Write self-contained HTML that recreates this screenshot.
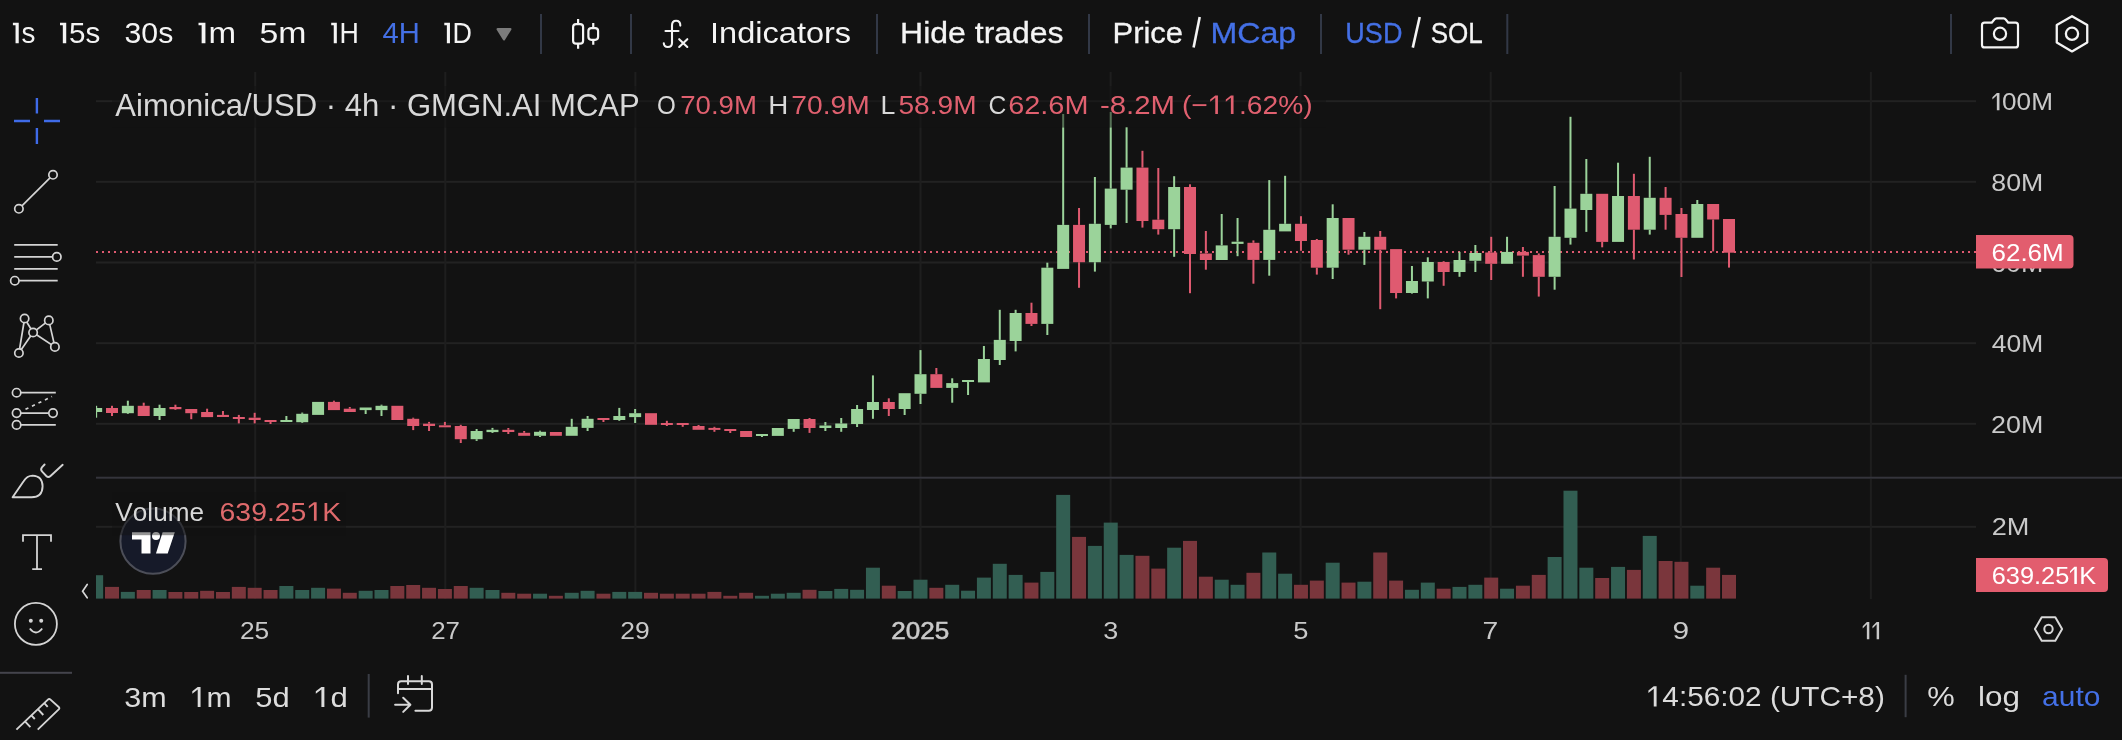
<!DOCTYPE html>
<html><head><meta charset="utf-8"><style>
html,body{margin:0;padding:0;background:#121212;overflow:hidden}
svg{display:block;will-change:transform}
text{font-family:"Liberation Sans",sans-serif;white-space:pre;font-kerning:none}
</style></head><body>
<svg width="2122" height="740" viewBox="0 0 2122 740">
<defs><clipPath id="cm"><rect x="96" y="72" width="1880" height="405"/></clipPath><clipPath id="cv"><rect x="96" y="479" width="1880" height="120"/></clipPath></defs>
<rect x="0" y="0" width="2122" height="740" fill="#121212"/><rect x="96" y="100.2" width="1880" height="2" fill="#222222"/><rect x="96" y="180.8" width="1880" height="2" fill="#222222"/><rect x="96" y="261.5" width="1880" height="2" fill="#222222"/><rect x="96" y="342.2" width="1880" height="2" fill="#222222"/><rect x="96" y="422.8" width="1880" height="2" fill="#222222"/><rect x="96" y="525.8" width="1880" height="2" fill="#222222"/><rect x="254.2" y="72" width="2" height="405" fill="#1e1e1e"/><rect x="254.2" y="479" width="2" height="120" fill="#1e1e1e"/><rect x="444.3" y="72" width="2" height="405" fill="#1e1e1e"/><rect x="444.3" y="479" width="2" height="120" fill="#1e1e1e"/><rect x="634.4" y="72" width="2" height="405" fill="#1e1e1e"/><rect x="634.4" y="479" width="2" height="120" fill="#1e1e1e"/><rect x="919.5" y="72" width="2" height="405" fill="#1e1e1e"/><rect x="919.5" y="479" width="2" height="120" fill="#1e1e1e"/><rect x="1109.6" y="72" width="2" height="405" fill="#1e1e1e"/><rect x="1109.6" y="479" width="2" height="120" fill="#1e1e1e"/><rect x="1299.6" y="72" width="2" height="405" fill="#1e1e1e"/><rect x="1299.6" y="479" width="2" height="120" fill="#1e1e1e"/><rect x="1489.7" y="72" width="2" height="405" fill="#1e1e1e"/><rect x="1489.7" y="479" width="2" height="120" fill="#1e1e1e"/><rect x="1679.8" y="72" width="2" height="405" fill="#1e1e1e"/><rect x="1679.8" y="479" width="2" height="120" fill="#1e1e1e"/><rect x="1869.9" y="72" width="2" height="405" fill="#1e1e1e"/><rect x="1869.9" y="479" width="2" height="120" fill="#1e1e1e"/><rect x="96" y="476.7" width="2026" height="2" fill="#34343b"/><line x1="96" y1="252" x2="1976" y2="252" stroke="#df5a70" stroke-width="2" stroke-dasharray="2 4"/><g clip-path="url(#cv)"><rect x="89.15" y="575.20" width="14" height="23.40" fill="#325e52"/><rect x="105.00" y="586.90" width="14" height="11.70" fill="#7a363c"/><rect x="120.85" y="591.90" width="14" height="6.70" fill="#325e52"/><rect x="136.71" y="590.00" width="14" height="8.60" fill="#7a363c"/><rect x="152.56" y="590.00" width="14" height="8.60" fill="#325e52"/><rect x="168.41" y="592.00" width="14" height="6.60" fill="#7a363c"/><rect x="184.26" y="592.00" width="14" height="6.60" fill="#7a363c"/><rect x="200.12" y="590.80" width="14" height="7.80" fill="#7a363c"/><rect x="215.97" y="592.00" width="14" height="6.60" fill="#7a363c"/><rect x="231.82" y="586.90" width="14" height="11.70" fill="#7a363c"/><rect x="247.68" y="587.80" width="14" height="10.80" fill="#7a363c"/><rect x="263.53" y="590.00" width="14" height="8.60" fill="#7a363c"/><rect x="279.38" y="586.00" width="14" height="12.60" fill="#325e52"/><rect x="295.24" y="590.00" width="14" height="8.60" fill="#325e52"/><rect x="311.09" y="587.80" width="14" height="10.80" fill="#325e52"/><rect x="326.94" y="588.60" width="14" height="10.00" fill="#7a363c"/><rect x="342.79" y="592.80" width="14" height="5.80" fill="#7a363c"/><rect x="358.65" y="590.80" width="14" height="7.80" fill="#325e52"/><rect x="374.50" y="590.00" width="14" height="8.60" fill="#325e52"/><rect x="390.35" y="586.00" width="14" height="12.60" fill="#7a363c"/><rect x="406.21" y="585.00" width="14" height="13.60" fill="#7a363c"/><rect x="422.06" y="587.80" width="14" height="10.80" fill="#7a363c"/><rect x="437.91" y="589.00" width="14" height="9.60" fill="#7a363c"/><rect x="453.77" y="586.00" width="14" height="12.60" fill="#7a363c"/><rect x="469.62" y="587.80" width="14" height="10.80" fill="#325e52"/><rect x="485.47" y="590.00" width="14" height="8.60" fill="#325e52"/><rect x="501.32" y="592.80" width="14" height="5.80" fill="#7a363c"/><rect x="517.18" y="593.70" width="14" height="4.90" fill="#7a363c"/><rect x="533.03" y="593.70" width="14" height="4.90" fill="#325e52"/><rect x="548.88" y="595.80" width="14" height="2.80" fill="#7a363c"/><rect x="564.74" y="592.80" width="14" height="5.80" fill="#325e52"/><rect x="580.59" y="590.80" width="14" height="7.80" fill="#325e52"/><rect x="596.44" y="593.70" width="14" height="4.90" fill="#7a363c"/><rect x="612.30" y="591.90" width="14" height="6.70" fill="#325e52"/><rect x="628.15" y="591.90" width="14" height="6.70" fill="#325e52"/><rect x="644.00" y="592.80" width="14" height="5.80" fill="#7a363c"/><rect x="659.86" y="593.70" width="14" height="4.90" fill="#7a363c"/><rect x="675.71" y="593.70" width="14" height="4.90" fill="#7a363c"/><rect x="691.56" y="593.70" width="14" height="4.90" fill="#7a363c"/><rect x="707.41" y="591.90" width="14" height="6.70" fill="#7a363c"/><rect x="723.27" y="595.80" width="14" height="2.80" fill="#7a363c"/><rect x="739.12" y="592.80" width="14" height="5.80" fill="#7a363c"/><rect x="754.97" y="595.80" width="14" height="2.80" fill="#325e52"/><rect x="770.83" y="593.70" width="14" height="4.90" fill="#325e52"/><rect x="786.68" y="592.80" width="14" height="5.80" fill="#325e52"/><rect x="802.53" y="589.80" width="14" height="8.80" fill="#7a363c"/><rect x="818.38" y="591.00" width="14" height="7.60" fill="#325e52"/><rect x="834.24" y="588.90" width="14" height="9.70" fill="#325e52"/><rect x="850.09" y="589.80" width="14" height="8.80" fill="#325e52"/><rect x="865.94" y="567.70" width="14" height="30.90" fill="#325e52"/><rect x="881.80" y="585.70" width="14" height="12.90" fill="#7a363c"/><rect x="897.65" y="591.00" width="14" height="7.60" fill="#325e52"/><rect x="913.50" y="579.70" width="14" height="18.90" fill="#325e52"/><rect x="929.36" y="587.80" width="14" height="10.80" fill="#7a363c"/><rect x="945.21" y="584.80" width="14" height="13.80" fill="#325e52"/><rect x="961.06" y="590.70" width="14" height="7.90" fill="#325e52"/><rect x="976.91" y="577.60" width="14" height="21.00" fill="#325e52"/><rect x="992.77" y="563.80" width="14" height="34.80" fill="#325e52"/><rect x="1008.62" y="574.90" width="14" height="23.70" fill="#325e52"/><rect x="1024.47" y="582.60" width="14" height="16.00" fill="#7a363c"/><rect x="1040.33" y="571.90" width="14" height="26.70" fill="#325e52"/><rect x="1056.18" y="494.90" width="14" height="103.70" fill="#325e52"/><rect x="1072.03" y="536.90" width="14" height="61.70" fill="#7a363c"/><rect x="1087.89" y="545.90" width="14" height="52.70" fill="#325e52"/><rect x="1103.74" y="522.60" width="14" height="76.00" fill="#325e52"/><rect x="1119.59" y="554.90" width="14" height="43.70" fill="#325e52"/><rect x="1135.44" y="555.80" width="14" height="42.80" fill="#7a363c"/><rect x="1151.30" y="568.60" width="14" height="30.00" fill="#7a363c"/><rect x="1167.15" y="547.70" width="14" height="50.90" fill="#325e52"/><rect x="1183.00" y="540.90" width="14" height="57.70" fill="#7a363c"/><rect x="1198.86" y="576.70" width="14" height="21.90" fill="#7a363c"/><rect x="1214.71" y="579.70" width="14" height="18.90" fill="#325e52"/><rect x="1230.56" y="584.80" width="14" height="13.80" fill="#325e52"/><rect x="1246.42" y="572.80" width="14" height="25.80" fill="#7a363c"/><rect x="1262.27" y="552.50" width="14" height="46.10" fill="#325e52"/><rect x="1278.12" y="573.70" width="14" height="24.90" fill="#325e52"/><rect x="1293.97" y="584.80" width="14" height="13.80" fill="#7a363c"/><rect x="1309.83" y="580.60" width="14" height="18.00" fill="#7a363c"/><rect x="1325.68" y="562.70" width="14" height="35.90" fill="#325e52"/><rect x="1341.53" y="582.60" width="14" height="16.00" fill="#7a363c"/><rect x="1357.39" y="581.70" width="14" height="16.90" fill="#325e52"/><rect x="1373.24" y="552.50" width="14" height="46.10" fill="#7a363c"/><rect x="1389.09" y="580.60" width="14" height="18.00" fill="#7a363c"/><rect x="1404.95" y="589.80" width="14" height="8.80" fill="#325e52"/><rect x="1420.80" y="582.60" width="14" height="16.00" fill="#325e52"/><rect x="1436.65" y="588.70" width="14" height="9.90" fill="#7a363c"/><rect x="1452.50" y="586.90" width="14" height="11.70" fill="#325e52"/><rect x="1468.36" y="584.80" width="14" height="13.80" fill="#325e52"/><rect x="1484.21" y="577.60" width="14" height="21.00" fill="#7a363c"/><rect x="1500.06" y="588.70" width="14" height="9.90" fill="#325e52"/><rect x="1515.92" y="585.70" width="14" height="12.90" fill="#7a363c"/><rect x="1531.77" y="574.90" width="14" height="23.70" fill="#7a363c"/><rect x="1547.62" y="557.00" width="14" height="41.60" fill="#325e52"/><rect x="1563.48" y="490.70" width="14" height="107.90" fill="#325e52"/><rect x="1579.33" y="567.70" width="14" height="30.90" fill="#325e52"/><rect x="1595.18" y="578.00" width="14" height="20.60" fill="#7a363c"/><rect x="1611.04" y="566.90" width="14" height="31.70" fill="#325e52"/><rect x="1626.89" y="569.90" width="14" height="28.70" fill="#7a363c"/><rect x="1642.74" y="535.90" width="14" height="62.70" fill="#325e52"/><rect x="1658.59" y="561.00" width="14" height="37.60" fill="#7a363c"/><rect x="1674.45" y="561.80" width="14" height="36.80" fill="#7a363c"/><rect x="1690.30" y="585.70" width="14" height="12.90" fill="#325e52"/><rect x="1706.15" y="567.70" width="14" height="30.90" fill="#7a363c"/><rect x="1722.01" y="574.90" width="14" height="23.70" fill="#7a363c"/></g><g clip-path="url(#cm)"><rect x="95.15" y="405.80" width="2" height="2.20" fill="#9bd39a"/><rect x="95.15" y="412.00" width="2" height="5.70" fill="#9bd39a"/><rect x="90.15" y="408.00" width="12" height="4.00" fill="#9bd39a"/><rect x="111.00" y="405.80" width="2" height="2.20" fill="#df5a70"/><rect x="111.00" y="413.00" width="2" height="3.00" fill="#df5a70"/><rect x="106.00" y="408.00" width="12" height="5.00" fill="#df5a70"/><rect x="126.85" y="400.70" width="2" height="5.10" fill="#9bd39a"/><rect x="126.85" y="413.20" width="2" height="0.80" fill="#9bd39a"/><rect x="121.85" y="405.80" width="12" height="7.40" fill="#9bd39a"/><rect x="142.71" y="402.70" width="2" height="3.10" fill="#df5a70"/><rect x="137.71" y="405.80" width="12" height="10.20" fill="#df5a70"/><rect x="158.56" y="404.70" width="2" height="3.30" fill="#9bd39a"/><rect x="158.56" y="416.00" width="2" height="4.00" fill="#9bd39a"/><rect x="153.56" y="408.00" width="12" height="8.00" fill="#9bd39a"/><rect x="174.41" y="404.70" width="2" height="2.30" fill="#df5a70"/><rect x="174.41" y="409.20" width="2" height="0.80" fill="#df5a70"/><rect x="169.41" y="407.00" width="12" height="2.20" fill="#df5a70"/><rect x="190.26" y="413.20" width="2" height="6.00" fill="#df5a70"/><rect x="185.26" y="409.00" width="12" height="4.20" fill="#df5a70"/><rect x="206.12" y="408.70" width="2" height="3.30" fill="#df5a70"/><rect x="201.12" y="412.00" width="12" height="5.10" fill="#df5a70"/><rect x="221.97" y="411.00" width="2" height="3.90" fill="#df5a70"/><rect x="216.97" y="414.90" width="12" height="2.10" fill="#df5a70"/><rect x="237.82" y="414.90" width="2" height="2.10" fill="#df5a70"/><rect x="237.82" y="418.80" width="2" height="4.60" fill="#df5a70"/><rect x="232.82" y="417.00" width="12" height="2.00" fill="#df5a70"/><rect x="253.68" y="412.80" width="2" height="4.90" fill="#df5a70"/><rect x="253.68" y="420.00" width="2" height="3.40" fill="#df5a70"/><rect x="248.68" y="417.70" width="12" height="2.30" fill="#df5a70"/><rect x="269.53" y="422.00" width="2" height="2.00" fill="#df5a70"/><rect x="264.53" y="420.00" width="12" height="2.00" fill="#df5a70"/><rect x="285.38" y="416.00" width="2" height="4.00" fill="#9bd39a"/><rect x="280.38" y="420.00" width="12" height="2.00" fill="#9bd39a"/><rect x="301.24" y="412.60" width="2" height="1.20" fill="#9bd39a"/><rect x="301.24" y="422.20" width="2" height="0.80" fill="#9bd39a"/><rect x="296.24" y="413.80" width="12" height="8.40" fill="#9bd39a"/><rect x="312.09" y="401.90" width="12" height="13.00" fill="#9bd39a"/><rect x="332.94" y="400.70" width="2" height="1.20" fill="#df5a70"/><rect x="327.94" y="401.90" width="12" height="8.20" fill="#df5a70"/><rect x="348.79" y="407.00" width="2" height="1.70" fill="#df5a70"/><rect x="343.79" y="408.70" width="12" height="3.30" fill="#df5a70"/><rect x="364.65" y="410.10" width="2" height="3.90" fill="#9bd39a"/><rect x="359.65" y="407.50" width="12" height="2.60" fill="#9bd39a"/><rect x="380.50" y="404.70" width="2" height="1.10" fill="#9bd39a"/><rect x="380.50" y="410.10" width="2" height="5.90" fill="#9bd39a"/><rect x="375.50" y="405.80" width="12" height="4.30" fill="#9bd39a"/><rect x="391.35" y="405.80" width="12" height="14.20" fill="#df5a70"/><rect x="412.21" y="417.70" width="2" height="1.10" fill="#df5a70"/><rect x="412.21" y="426.00" width="2" height="4.10" fill="#df5a70"/><rect x="407.21" y="418.80" width="12" height="7.20" fill="#df5a70"/><rect x="428.06" y="421.90" width="2" height="1.80" fill="#df5a70"/><rect x="428.06" y="426.00" width="2" height="5.00" fill="#df5a70"/><rect x="423.06" y="423.70" width="12" height="2.30" fill="#df5a70"/><rect x="443.91" y="421.90" width="2" height="3.40" fill="#df5a70"/><rect x="438.91" y="425.30" width="12" height="2.00" fill="#df5a70"/><rect x="459.77" y="424.80" width="2" height="1.20" fill="#df5a70"/><rect x="459.77" y="439.20" width="2" height="3.80" fill="#df5a70"/><rect x="454.77" y="426.00" width="12" height="13.20" fill="#df5a70"/><rect x="475.62" y="429.00" width="2" height="2.00" fill="#9bd39a"/><rect x="475.62" y="439.20" width="2" height="1.70" fill="#9bd39a"/><rect x="470.62" y="431.00" width="12" height="8.20" fill="#9bd39a"/><rect x="491.47" y="427.90" width="2" height="1.90" fill="#9bd39a"/><rect x="491.47" y="432.10" width="2" height="0.90" fill="#9bd39a"/><rect x="486.47" y="429.80" width="12" height="2.30" fill="#9bd39a"/><rect x="507.32" y="428.00" width="2" height="1.80" fill="#df5a70"/><rect x="507.32" y="432.00" width="2" height="2.00" fill="#df5a70"/><rect x="502.32" y="429.80" width="12" height="2.20" fill="#df5a70"/><rect x="523.18" y="431.00" width="2" height="1.80" fill="#df5a70"/><rect x="518.18" y="432.80" width="12" height="3.00" fill="#df5a70"/><rect x="539.03" y="430.70" width="2" height="1.10" fill="#9bd39a"/><rect x="539.03" y="435.80" width="2" height="1.20" fill="#9bd39a"/><rect x="534.03" y="431.80" width="12" height="4.00" fill="#9bd39a"/><rect x="549.88" y="432.00" width="12" height="3.80" fill="#df5a70"/><rect x="570.74" y="418.80" width="2" height="8.00" fill="#9bd39a"/><rect x="565.74" y="426.80" width="12" height="9.00" fill="#9bd39a"/><rect x="586.59" y="416.00" width="2" height="2.80" fill="#9bd39a"/><rect x="586.59" y="427.90" width="2" height="3.10" fill="#9bd39a"/><rect x="581.59" y="418.80" width="12" height="9.10" fill="#9bd39a"/><rect x="602.44" y="420.00" width="2" height="2.00" fill="#df5a70"/><rect x="597.44" y="418.00" width="12" height="2.00" fill="#df5a70"/><rect x="618.30" y="407.90" width="2" height="8.10" fill="#9bd39a"/><rect x="618.30" y="420.00" width="2" height="0.80" fill="#9bd39a"/><rect x="613.30" y="416.00" width="12" height="4.00" fill="#9bd39a"/><rect x="634.15" y="409.00" width="2" height="4.20" fill="#9bd39a"/><rect x="634.15" y="417.10" width="2" height="5.90" fill="#9bd39a"/><rect x="629.15" y="413.20" width="12" height="3.90" fill="#9bd39a"/><rect x="645.00" y="413.20" width="12" height="11.60" fill="#df5a70"/><rect x="665.86" y="420.80" width="2" height="2.20" fill="#df5a70"/><rect x="665.86" y="424.80" width="2" height="1.20" fill="#df5a70"/><rect x="660.86" y="423.00" width="12" height="2.00" fill="#df5a70"/><rect x="681.71" y="424.80" width="2" height="2.00" fill="#df5a70"/><rect x="676.71" y="423.00" width="12" height="2.00" fill="#df5a70"/><rect x="697.56" y="425.00" width="2" height="1.00" fill="#df5a70"/><rect x="692.56" y="426.00" width="12" height="3.80" fill="#df5a70"/><rect x="713.41" y="426.80" width="2" height="1.10" fill="#df5a70"/><rect x="713.41" y="429.80" width="2" height="2.00" fill="#df5a70"/><rect x="708.41" y="427.90" width="12" height="2.00" fill="#df5a70"/><rect x="729.27" y="431.00" width="2" height="2.00" fill="#df5a70"/><rect x="724.27" y="429.00" width="12" height="2.00" fill="#df5a70"/><rect x="740.12" y="431.00" width="12" height="6.00" fill="#df5a70"/><rect x="760.97" y="435.90" width="2" height="1.10" fill="#9bd39a"/><rect x="755.97" y="434.00" width="12" height="2.00" fill="#9bd39a"/><rect x="771.83" y="428.00" width="12" height="7.90" fill="#9bd39a"/><rect x="792.68" y="428.90" width="2" height="2.90" fill="#9bd39a"/><rect x="787.68" y="419.00" width="12" height="9.90" fill="#9bd39a"/><rect x="808.53" y="418.00" width="2" height="1.00" fill="#df5a70"/><rect x="808.53" y="428.00" width="2" height="4.90" fill="#df5a70"/><rect x="803.53" y="419.00" width="12" height="9.00" fill="#df5a70"/><rect x="824.38" y="422.00" width="2" height="3.50" fill="#9bd39a"/><rect x="824.38" y="428.00" width="2" height="3.00" fill="#9bd39a"/><rect x="819.38" y="425.50" width="12" height="2.50" fill="#9bd39a"/><rect x="840.24" y="418.00" width="2" height="5.50" fill="#9bd39a"/><rect x="840.24" y="428.00" width="2" height="3.80" fill="#9bd39a"/><rect x="835.24" y="423.50" width="12" height="4.50" fill="#9bd39a"/><rect x="856.09" y="405.00" width="2" height="4.00" fill="#9bd39a"/><rect x="856.09" y="424.00" width="2" height="3.00" fill="#9bd39a"/><rect x="851.09" y="409.00" width="12" height="15.00" fill="#9bd39a"/><rect x="871.94" y="375.40" width="2" height="26.60" fill="#9bd39a"/><rect x="871.94" y="410.00" width="2" height="8.80" fill="#9bd39a"/><rect x="866.94" y="402.00" width="12" height="8.00" fill="#9bd39a"/><rect x="887.80" y="398.30" width="2" height="3.70" fill="#df5a70"/><rect x="887.80" y="409.00" width="2" height="7.00" fill="#df5a70"/><rect x="882.80" y="402.00" width="12" height="7.00" fill="#df5a70"/><rect x="903.65" y="409.00" width="2" height="6.00" fill="#9bd39a"/><rect x="898.65" y="393.20" width="12" height="15.80" fill="#9bd39a"/><rect x="919.50" y="350.10" width="2" height="24.10" fill="#9bd39a"/><rect x="919.50" y="393.80" width="2" height="10.20" fill="#9bd39a"/><rect x="914.50" y="374.20" width="12" height="19.60" fill="#9bd39a"/><rect x="935.36" y="368.00" width="2" height="6.20" fill="#df5a70"/><rect x="930.36" y="374.20" width="12" height="13.70" fill="#df5a70"/><rect x="951.21" y="378.30" width="2" height="4.80" fill="#9bd39a"/><rect x="951.21" y="387.90" width="2" height="14.80" fill="#9bd39a"/><rect x="946.21" y="383.10" width="12" height="4.80" fill="#9bd39a"/><rect x="967.06" y="382.00" width="2" height="13.00" fill="#9bd39a"/><rect x="962.06" y="380.00" width="12" height="2.00" fill="#9bd39a"/><rect x="982.91" y="346.00" width="2" height="13.00" fill="#9bd39a"/><rect x="977.91" y="359.00" width="12" height="23.40" fill="#9bd39a"/><rect x="998.77" y="309.80" width="2" height="30.10" fill="#9bd39a"/><rect x="998.77" y="360.00" width="2" height="5.00" fill="#9bd39a"/><rect x="993.77" y="339.90" width="12" height="20.10" fill="#9bd39a"/><rect x="1014.62" y="309.80" width="2" height="3.20" fill="#9bd39a"/><rect x="1014.62" y="341.00" width="2" height="10.40" fill="#9bd39a"/><rect x="1009.62" y="313.00" width="12" height="28.00" fill="#9bd39a"/><rect x="1030.47" y="302.70" width="2" height="10.30" fill="#df5a70"/><rect x="1030.47" y="323.90" width="2" height="2.10" fill="#df5a70"/><rect x="1025.47" y="313.00" width="12" height="10.90" fill="#df5a70"/><rect x="1046.33" y="262.70" width="2" height="5.00" fill="#9bd39a"/><rect x="1046.33" y="323.90" width="2" height="11.10" fill="#9bd39a"/><rect x="1041.33" y="267.70" width="12" height="56.20" fill="#9bd39a"/><rect x="1062.18" y="114.00" width="2" height="110.90" fill="#9bd39a"/><rect x="1057.18" y="224.90" width="12" height="44.00" fill="#9bd39a"/><rect x="1078.03" y="208.00" width="2" height="16.90" fill="#df5a70"/><rect x="1078.03" y="262.20" width="2" height="25.60" fill="#df5a70"/><rect x="1073.03" y="224.90" width="12" height="37.30" fill="#df5a70"/><rect x="1093.89" y="177.00" width="2" height="46.80" fill="#9bd39a"/><rect x="1093.89" y="262.20" width="2" height="9.40" fill="#9bd39a"/><rect x="1088.89" y="223.80" width="12" height="38.40" fill="#9bd39a"/><rect x="1109.74" y="112.00" width="2" height="76.60" fill="#9bd39a"/><rect x="1109.74" y="224.90" width="2" height="3.50" fill="#9bd39a"/><rect x="1104.74" y="188.60" width="12" height="36.30" fill="#9bd39a"/><rect x="1125.59" y="127.00" width="2" height="40.60" fill="#9bd39a"/><rect x="1125.59" y="189.70" width="2" height="33.30" fill="#9bd39a"/><rect x="1120.59" y="167.60" width="12" height="22.10" fill="#9bd39a"/><rect x="1141.44" y="150.80" width="2" height="16.80" fill="#df5a70"/><rect x="1141.44" y="221.00" width="2" height="6.60" fill="#df5a70"/><rect x="1136.44" y="167.60" width="12" height="53.40" fill="#df5a70"/><rect x="1157.30" y="168.00" width="2" height="51.70" fill="#df5a70"/><rect x="1157.30" y="229.20" width="2" height="5.40" fill="#df5a70"/><rect x="1152.30" y="219.70" width="12" height="9.50" fill="#df5a70"/><rect x="1173.15" y="176.20" width="2" height="10.80" fill="#9bd39a"/><rect x="1173.15" y="229.20" width="2" height="27.60" fill="#9bd39a"/><rect x="1168.15" y="187.00" width="12" height="42.20" fill="#9bd39a"/><rect x="1189.00" y="184.30" width="2" height="2.70" fill="#df5a70"/><rect x="1189.00" y="254.00" width="2" height="39.20" fill="#df5a70"/><rect x="1184.00" y="187.00" width="12" height="67.00" fill="#df5a70"/><rect x="1204.86" y="231.00" width="2" height="22.50" fill="#df5a70"/><rect x="1204.86" y="260.00" width="2" height="9.70" fill="#df5a70"/><rect x="1199.86" y="253.50" width="12" height="6.50" fill="#df5a70"/><rect x="1220.71" y="214.00" width="2" height="31.40" fill="#9bd39a"/><rect x="1215.71" y="245.40" width="12" height="14.60" fill="#9bd39a"/><rect x="1236.56" y="218.00" width="2" height="23.70" fill="#9bd39a"/><rect x="1236.56" y="243.90" width="2" height="12.30" fill="#9bd39a"/><rect x="1231.56" y="241.70" width="12" height="2.20" fill="#9bd39a"/><rect x="1252.42" y="240.40" width="2" height="2.40" fill="#df5a70"/><rect x="1252.42" y="259.90" width="2" height="23.80" fill="#df5a70"/><rect x="1247.42" y="242.80" width="12" height="17.10" fill="#df5a70"/><rect x="1268.27" y="180.10" width="2" height="49.70" fill="#9bd39a"/><rect x="1268.27" y="259.90" width="2" height="15.80" fill="#9bd39a"/><rect x="1263.27" y="229.80" width="12" height="30.10" fill="#9bd39a"/><rect x="1284.12" y="175.80" width="2" height="48.00" fill="#9bd39a"/><rect x="1279.12" y="223.80" width="12" height="7.60" fill="#9bd39a"/><rect x="1299.97" y="216.20" width="2" height="7.60" fill="#df5a70"/><rect x="1299.97" y="241.00" width="2" height="9.80" fill="#df5a70"/><rect x="1294.97" y="223.80" width="12" height="17.20" fill="#df5a70"/><rect x="1315.83" y="239.00" width="2" height="1.00" fill="#df5a70"/><rect x="1315.83" y="267.70" width="2" height="6.90" fill="#df5a70"/><rect x="1310.83" y="240.00" width="12" height="27.70" fill="#df5a70"/><rect x="1331.68" y="204.30" width="2" height="13.70" fill="#9bd39a"/><rect x="1331.68" y="267.70" width="2" height="11.30" fill="#9bd39a"/><rect x="1326.68" y="218.00" width="12" height="49.70" fill="#9bd39a"/><rect x="1347.53" y="249.70" width="2" height="5.00" fill="#df5a70"/><rect x="1342.53" y="218.00" width="12" height="31.70" fill="#df5a70"/><rect x="1363.39" y="232.00" width="2" height="4.80" fill="#9bd39a"/><rect x="1363.39" y="249.70" width="2" height="15.20" fill="#9bd39a"/><rect x="1358.39" y="236.80" width="12" height="12.90" fill="#9bd39a"/><rect x="1379.24" y="231.00" width="2" height="5.80" fill="#df5a70"/><rect x="1379.24" y="249.70" width="2" height="59.50" fill="#df5a70"/><rect x="1374.24" y="236.80" width="12" height="12.90" fill="#df5a70"/><rect x="1395.09" y="293.00" width="2" height="5.40" fill="#df5a70"/><rect x="1390.09" y="249.10" width="12" height="43.90" fill="#df5a70"/><rect x="1410.95" y="266.00" width="2" height="15.00" fill="#9bd39a"/><rect x="1410.95" y="293.00" width="2" height="0.60" fill="#9bd39a"/><rect x="1405.95" y="281.00" width="12" height="12.00" fill="#9bd39a"/><rect x="1426.80" y="257.30" width="2" height="4.70" fill="#9bd39a"/><rect x="1426.80" y="281.50" width="2" height="16.90" fill="#9bd39a"/><rect x="1421.80" y="262.00" width="12" height="19.50" fill="#9bd39a"/><rect x="1442.65" y="261.20" width="2" height="0.80" fill="#df5a70"/><rect x="1442.65" y="272.00" width="2" height="13.80" fill="#df5a70"/><rect x="1437.65" y="262.00" width="12" height="10.00" fill="#df5a70"/><rect x="1458.50" y="251.90" width="2" height="8.10" fill="#9bd39a"/><rect x="1458.50" y="272.00" width="2" height="4.80" fill="#9bd39a"/><rect x="1453.50" y="260.00" width="12" height="12.00" fill="#9bd39a"/><rect x="1474.36" y="245.00" width="2" height="8.00" fill="#9bd39a"/><rect x="1474.36" y="260.80" width="2" height="11.20" fill="#9bd39a"/><rect x="1469.36" y="253.00" width="12" height="7.80" fill="#9bd39a"/><rect x="1490.21" y="236.80" width="2" height="15.70" fill="#df5a70"/><rect x="1490.21" y="263.80" width="2" height="16.20" fill="#df5a70"/><rect x="1485.21" y="252.50" width="12" height="11.30" fill="#df5a70"/><rect x="1506.06" y="236.80" width="2" height="15.10" fill="#9bd39a"/><rect x="1501.06" y="251.90" width="12" height="11.90" fill="#9bd39a"/><rect x="1521.92" y="247.00" width="2" height="4.90" fill="#df5a70"/><rect x="1521.92" y="255.60" width="2" height="21.20" fill="#df5a70"/><rect x="1516.92" y="251.90" width="12" height="3.70" fill="#df5a70"/><rect x="1537.77" y="253.40" width="2" height="1.70" fill="#df5a70"/><rect x="1537.77" y="276.80" width="2" height="19.80" fill="#df5a70"/><rect x="1532.77" y="255.10" width="12" height="21.70" fill="#df5a70"/><rect x="1553.62" y="186.00" width="2" height="50.80" fill="#9bd39a"/><rect x="1553.62" y="276.80" width="2" height="12.90" fill="#9bd39a"/><rect x="1548.62" y="236.80" width="12" height="40.00" fill="#9bd39a"/><rect x="1569.48" y="116.80" width="2" height="91.80" fill="#9bd39a"/><rect x="1569.48" y="237.80" width="2" height="6.80" fill="#9bd39a"/><rect x="1564.48" y="208.60" width="12" height="29.20" fill="#9bd39a"/><rect x="1585.33" y="159.00" width="2" height="34.80" fill="#9bd39a"/><rect x="1585.33" y="210.00" width="2" height="21.90" fill="#9bd39a"/><rect x="1580.33" y="193.80" width="12" height="16.20" fill="#9bd39a"/><rect x="1601.18" y="241.90" width="2" height="5.40" fill="#df5a70"/><rect x="1596.18" y="193.80" width="12" height="48.10" fill="#df5a70"/><rect x="1617.04" y="162.70" width="2" height="33.30" fill="#9bd39a"/><rect x="1612.04" y="196.00" width="12" height="45.90" fill="#9bd39a"/><rect x="1632.89" y="173.80" width="2" height="22.20" fill="#df5a70"/><rect x="1632.89" y="229.70" width="2" height="29.80" fill="#df5a70"/><rect x="1627.89" y="196.00" width="12" height="33.70" fill="#df5a70"/><rect x="1648.74" y="156.80" width="2" height="41.00" fill="#9bd39a"/><rect x="1648.74" y="229.70" width="2" height="4.90" fill="#9bd39a"/><rect x="1643.74" y="197.80" width="12" height="31.90" fill="#9bd39a"/><rect x="1664.59" y="187.00" width="2" height="10.80" fill="#df5a70"/><rect x="1664.59" y="214.90" width="2" height="14.80" fill="#df5a70"/><rect x="1659.59" y="197.80" width="12" height="17.10" fill="#df5a70"/><rect x="1680.45" y="208.00" width="2" height="6.00" fill="#df5a70"/><rect x="1680.45" y="237.80" width="2" height="39.20" fill="#df5a70"/><rect x="1675.45" y="214.00" width="12" height="23.80" fill="#df5a70"/><rect x="1696.30" y="200.00" width="2" height="4.00" fill="#9bd39a"/><rect x="1691.30" y="204.00" width="12" height="33.80" fill="#9bd39a"/><rect x="1712.15" y="219.50" width="2" height="31.90" fill="#df5a70"/><rect x="1707.15" y="204.00" width="12" height="15.50" fill="#df5a70"/><rect x="1728.01" y="252.70" width="2" height="14.90" fill="#df5a70"/><rect x="1723.01" y="219.00" width="12" height="33.70" fill="#df5a70"/></g><rect x="112" y="86" width="1214" height="41.6" fill="#121212" fill-opacity="0.5"/><circle cx="153" cy="541.2" r="32.6" fill="#161a29" stroke="#4c4e58" stroke-width="2"/><path d="M132 532.2 H150.5 V553.6 H141.5 V539.4 H132 Z" fill="#ffffff"/><circle cx="156" cy="535.9" r="4" fill="#ffffff"/><path d="M162.6 532.2 H174.8 L167.7 553.6 H156 Z" fill="#ffffff"/><rect x="112" y="492" width="234" height="43.2" fill="#121212" fill-opacity="0.45"/>
<polygon points="12.90,22.70 15.54,22.70 18.74,22.70 18.74,43.20 15.54,43.20 15.54,25.16 12.90,25.16" fill="#f4f4f4"/><text x="21.38" y="43.20" font-size="29" font-weight="normal" fill="#f4f4f4" textLength="13.90" lengthAdjust="spacingAndGlyphs">s</text><polygon points="60.00,22.70 62.82,22.70 66.23,22.70 66.23,43.20 62.82,43.20 62.82,25.16 60.00,25.16" fill="#f4f4f4"/><text x="69.05" y="43.20" font-size="29" font-weight="normal" fill="#f4f4f4" textLength="31.29" lengthAdjust="spacingAndGlyphs">5s</text><text x="124.54" y="43.20" font-size="29" font-weight="normal" fill="#f4f4f4" textLength="48.72" lengthAdjust="spacingAndGlyphs">30s</text><polygon points="198.50,22.70 201.64,22.70 205.43,22.70 205.43,43.20 201.64,43.20 201.64,25.16 198.50,25.16" fill="#f4f4f4"/><text x="208.57" y="43.20" font-size="29" font-weight="normal" fill="#f4f4f4" textLength="27.57" lengthAdjust="spacingAndGlyphs">m</text><text x="259.55" y="43.20" font-size="29" font-weight="normal" fill="#f4f4f4" textLength="46.95" lengthAdjust="spacingAndGlyphs">5m</text><polygon points="331.20,22.70 333.75,22.70 336.84,22.70 336.84,43.20 333.75,43.20 333.75,25.16 331.20,25.16" fill="#f4f4f4"/><text x="339.40" y="43.20" font-size="29" font-weight="normal" fill="#f4f4f4" textLength="19.35" lengthAdjust="spacingAndGlyphs">H</text><polygon points="444.30,22.70 446.86,22.70 449.96,22.70 449.96,43.20 446.86,43.20 446.86,25.16 444.30,25.16" fill="#f4f4f4"/><text x="452.52" y="43.20" font-size="29" font-weight="normal" fill="#f4f4f4" textLength="19.40" lengthAdjust="spacingAndGlyphs">D</text><text x="710.07" y="43.20" font-size="29" font-weight="normal" fill="#f4f4f4" textLength="141.07" lengthAdjust="spacingAndGlyphs">Indicators</text><text x="382.41" y="43.20" font-size="29" font-weight="normal" fill="#4470e6" textLength="37.33" lengthAdjust="spacingAndGlyphs">4H</text><text x="900.14" y="43.20" font-size="29" font-weight="normal" fill="#f4f4f4" stroke="#f4f4f4" stroke-width="0.3" textLength="163.48" lengthAdjust="spacingAndGlyphs">Hide trades</text><text x="1112.52" y="43.20" font-size="29" font-weight="normal" fill="#f4f4f4" stroke="#f4f4f4" stroke-width="0.3" textLength="70.52" lengthAdjust="spacingAndGlyphs">Price</text><text x="1210.42" y="43.20" font-size="29" font-weight="normal" fill="#4470e6" stroke="#4470e6" stroke-width="0.3" textLength="85.87" lengthAdjust="spacingAndGlyphs">MCap</text><text x="1345.37" y="43.20" font-size="29" font-weight="normal" fill="#4470e6" stroke="#4470e6" stroke-width="0.3" textLength="57.05" lengthAdjust="spacingAndGlyphs">USD</text><text x="1430.63" y="43.20" font-size="29" font-weight="normal" fill="#f4f4f4" stroke="#f4f4f4" stroke-width="0.3" textLength="52.16" lengthAdjust="spacingAndGlyphs">SOL</text><text x="115.30" y="115.70" font-size="32" font-weight="normal" fill="#d8d8d8" textLength="524.45" lengthAdjust="spacingAndGlyphs">Aimonica/USD · 4h · GMGN.AI MCAP</text><text x="656.92" y="114.10" font-size="26" font-weight="normal" fill="#d8d8d8" textLength="18.79" lengthAdjust="spacingAndGlyphs">O</text><text x="680.22" y="114.10" font-size="26" font-weight="normal" fill="#e0606f" textLength="76.73" lengthAdjust="spacingAndGlyphs">70.9M</text><text x="768.37" y="114.10" font-size="26" font-weight="normal" fill="#d8d8d8" textLength="20.06" lengthAdjust="spacingAndGlyphs">H</text><text x="791.29" y="114.10" font-size="26" font-weight="normal" fill="#e0606f" textLength="78.41" lengthAdjust="spacingAndGlyphs">70.9M</text><text x="880.46" y="114.10" font-size="26" font-weight="normal" fill="#d8d8d8" textLength="14.84" lengthAdjust="spacingAndGlyphs">L</text><text x="898.48" y="114.10" font-size="26" font-weight="normal" fill="#e0606f" textLength="78.11" lengthAdjust="spacingAndGlyphs">58.9M</text><text x="988.56" y="114.10" font-size="26" font-weight="normal" fill="#d8d8d8" textLength="17.80" lengthAdjust="spacingAndGlyphs">C</text><text x="1008.26" y="114.10" font-size="26" font-weight="normal" fill="#e0606f" textLength="80.19" lengthAdjust="spacingAndGlyphs">62.6M</text><text x="1099.98" y="114.10" font-size="26" font-weight="normal" fill="#e0606f" textLength="75.11" lengthAdjust="spacingAndGlyphs">-8.2M</text><text x="1181.91" y="114.10" font-size="26" font-weight="normal" fill="#e0606f" textLength="25.89" lengthAdjust="spacingAndGlyphs">(−</text><polygon points="1210.19,99.38 1215.26,95.48 1217.93,95.48 1217.93,114.10 1215.26,114.10 1215.26,97.82 1210.19,101.72" fill="#e0606f"/><polygon points="1225.81,99.38 1230.88,95.48 1233.55,95.48 1233.55,114.10 1230.88,114.10 1230.88,97.82 1225.81,101.72" fill="#e0606f"/><text x="1239.04" y="114.10" font-size="26" font-weight="normal" fill="#e0606f" textLength="73.59" lengthAdjust="spacingAndGlyphs">.62%)</text><text x="115.37" y="520.80" font-size="26" font-weight="normal" fill="#d8d8d8" textLength="88.68" lengthAdjust="spacingAndGlyphs">Volume</text><text x="219.58" y="520.80" font-size="26" font-weight="normal" fill="#df6a6c" textLength="86.83" lengthAdjust="spacingAndGlyphs">639.25</text><polygon points="308.82,506.08 313.94,502.18 316.64,502.18 316.64,520.80 313.94,520.80 313.94,504.52 308.82,508.42" fill="#df6a6c"/><text x="322.18" y="520.80" font-size="26" font-weight="normal" fill="#df6a6c" textLength="18.90" lengthAdjust="spacingAndGlyphs">K</text><polygon points="1992.40,97.34 1996.84,93.02 1999.46,93.02 1999.46,110.20 1996.84,110.20 1996.84,95.18 1992.40,99.50" fill="#c9c9c9"/><text x="2002.07" y="110.20" font-size="24" font-weight="normal" fill="#c9c9c9" textLength="50.85" lengthAdjust="spacingAndGlyphs">00M</text><text x="1991.33" y="190.80" font-size="24" font-weight="normal" fill="#c9c9c9" textLength="51.94" lengthAdjust="spacingAndGlyphs">80M</text><text x="1991.06" y="271.50" font-size="24" font-weight="normal" fill="#c9c9c9" textLength="52.22" lengthAdjust="spacingAndGlyphs">60M</text><text x="1991.87" y="352.20" font-size="24" font-weight="normal" fill="#c9c9c9" textLength="51.37" lengthAdjust="spacingAndGlyphs">40M</text><text x="1991.06" y="432.80" font-size="24" font-weight="normal" fill="#c9c9c9" textLength="52.22" lengthAdjust="spacingAndGlyphs">20M</text><text x="1991.65" y="535.40" font-size="24" font-weight="normal" fill="#c9c9c9" textLength="37.66" lengthAdjust="spacingAndGlyphs">2M</text>
<path d="M1976 235 H2069.5 Q2073.5 235 2073.5 239 V264.5 Q2073.5 268.5 2069.5 268.5 H1976 Z" fill="#e25d6e"/><path d="M1976 558 H2104 Q2108 558 2108 562 V588 Q2108 592 2104 592 H1976 Z" fill="#e25d6e"/>
<text x="1991.50" y="261.30" font-size="24" font-weight="normal" fill="#ffffff" textLength="72.21" lengthAdjust="spacingAndGlyphs">62.6M</text><text x="1991.73" y="584.00" font-size="24" font-weight="normal" fill="#ffffff" textLength="77.50" lengthAdjust="spacingAndGlyphs">639.25</text><polygon points="2070.00,571.14 2074.31,566.82 2076.85,566.82 2076.85,584.00 2074.31,584.00 2074.31,568.98 2070.00,573.30" fill="#ffffff"/><text x="2079.38" y="584.00" font-size="24" font-weight="normal" fill="#ffffff" textLength="16.87" lengthAdjust="spacingAndGlyphs">K</text><text x="239.98" y="639.20" font-size="24" font-weight="normal" fill="#c9c9c9" textLength="29.27" lengthAdjust="spacingAndGlyphs">25</text><text x="431.20" y="639.20" font-size="24" font-weight="normal" fill="#c9c9c9" textLength="28.79" lengthAdjust="spacingAndGlyphs">27</text><text x="620.37" y="639.20" font-size="24" font-weight="normal" fill="#c9c9c9" textLength="29.42" lengthAdjust="spacingAndGlyphs">29</text><text x="1672.45" y="639.20" font-size="24" font-weight="normal" fill="#c9c9c9" textLength="16.59" lengthAdjust="spacingAndGlyphs">9</text><polygon points="1862.70,626.34 1866.86,622.02 1869.31,622.02 1869.31,639.20 1866.86,639.20 1866.86,624.18 1862.70,628.50" fill="#c9c9c9"/><polygon points="1872.49,626.34 1876.65,622.02 1879.10,622.02 1879.10,639.20 1876.65,639.20 1876.65,624.18 1872.49,628.50" fill="#c9c9c9"/><text x="891.29" y="639.20" font-size="24" font-weight="normal" fill="#c9c9c9" stroke="#c9c9c9" stroke-width="0.55" textLength="58.05" lengthAdjust="spacingAndGlyphs">2025</text><text x="1103.35" y="639.20" font-size="24" font-weight="normal" fill="#c9c9c9" textLength="15.03" lengthAdjust="spacingAndGlyphs">3</text><text x="1293.21" y="639.20" font-size="24" font-weight="normal" fill="#c9c9c9" textLength="15.19" lengthAdjust="spacingAndGlyphs">5</text><text x="1482.48" y="639.20" font-size="24" font-weight="normal" fill="#c9c9c9" textLength="15.74" lengthAdjust="spacingAndGlyphs">7</text><text x="124.23" y="707.00" font-size="28" font-weight="normal" fill="#dcdcdc" textLength="42.35" lengthAdjust="spacingAndGlyphs">3m</text><polygon points="192.30,691.15 197.70,686.95 200.55,686.95 200.55,707.00 197.70,707.00 197.70,689.47 192.30,693.67" fill="#dcdcdc"/><text x="206.40" y="707.00" font-size="28" font-weight="normal" fill="#dcdcdc" textLength="25.05" lengthAdjust="spacingAndGlyphs">m</text><text x="255.26" y="707.00" font-size="28" font-weight="normal" fill="#dcdcdc" textLength="34.40" lengthAdjust="spacingAndGlyphs">5d</text><polygon points="315.80,691.15 321.41,686.95 324.38,686.95 324.38,707.00 321.41,707.00 321.41,689.47 315.80,693.67" fill="#dcdcdc"/><text x="330.46" y="707.00" font-size="28" font-weight="normal" fill="#dcdcdc" textLength="17.31" lengthAdjust="spacingAndGlyphs">d</text><polygon points="1648.40,690.55 1653.76,686.35 1656.58,686.35 1656.58,706.40 1653.76,706.40 1653.76,688.87 1648.40,693.07" fill="#dcdcdc"/><text x="1662.39" y="706.40" font-size="28" font-weight="normal" fill="#dcdcdc" textLength="222.45" lengthAdjust="spacingAndGlyphs">4:56:02 (UTC+8)</text><text x="1927.22" y="706.40" font-size="28" font-weight="normal" fill="#dcdcdc" textLength="27.46" lengthAdjust="spacingAndGlyphs">%</text><text x="1977.95" y="706.40" font-size="28" font-weight="normal" fill="#dcdcdc" textLength="41.94" lengthAdjust="spacingAndGlyphs">log</text><text x="2042.10" y="706.40" font-size="28" font-weight="normal" fill="#4470e6" textLength="58.30" lengthAdjust="spacingAndGlyphs">auto</text>
<rect x="540" y="14" width="2" height="40" fill="#323846"/><rect x="630" y="14" width="2" height="40" fill="#323846"/><rect x="876" y="14" width="2" height="40" fill="#323846"/><rect x="1088" y="14" width="2" height="40" fill="#323846"/><rect x="1320" y="14" width="2" height="40" fill="#323846"/><rect x="1506.3" y="14" width="2" height="40" fill="#323846"/><rect x="1950" y="14" width="2" height="40" fill="#323846"/><path d="M1199.7 17 L1193.6 47.6" stroke="#f4f4f4" stroke-width="2.6"/><path d="M1419.7 17 L1412.8 47.6" stroke="#f4f4f4" stroke-width="2.6"/><path d="M497.6 29.1 H510.4 L504 39.3 Z" fill="#7b7b7b" stroke="#7b7b7b" stroke-width="2.2" stroke-linejoin="round"/><g stroke="#f4f4f4" stroke-width="2.2" fill="none"><rect x="573.1" y="24.1" width="10" height="19.6" rx="3"/><path d="M578.1 19 V24.1 M578.1 43.7 V48.8"/><rect x="588.4" y="28.1" width="9.7" height="11.7" rx="3"/><path d="M593.25 23 V28.1 M593.25 39.8 V44.8"/></g><g stroke="#f4f4f4" stroke-width="2.1" fill="none" stroke-linecap="round"><path d="M680.3 25.6 Q680.3 20.8 676.1 20.8 Q672 20.8 672 25.5 V43 Q672 47 667.8 47 Q664 47 663.8 43.3"/><path d="M665.5 31 H678.5"/><path d="M679.2 39.2 L687.3 47 M687.3 39.2 L679.2 47"/></g><g stroke="#f4f4f4" stroke-width="2.2" fill="none" stroke-linejoin="round"><path d="M1984.5 22.7 H1991.7 L1994.3 19.5 Q1995.1 18.4 1996.4 18.4 H2003.6 Q2004.9 18.4 2005.7 19.5 L2008.3 22.7 H2015.5 Q2018 22.7 2018 25.2 V44.9 Q2018 47.4 2015.5 47.4 H1984.5 Q1982 47.4 1982 44.9 V25.2 Q1982 22.7 1984.5 22.7 Z"/><circle cx="2000" cy="33.8" r="6.1"/></g><g stroke="#f4f4f4" stroke-width="2.3" fill="none" stroke-linejoin="round"><polygon points="2072.00,16.20 2087.24,25.00 2087.24,42.60 2072.00,51.40 2056.76,42.60 2056.76,25.00"/><circle cx="2072" cy="33.8" r="6.1"/></g><g stroke="#d8d8d8" stroke-width="2" fill="none" stroke-linejoin="round"><polygon points="2062.10,629.00 2055.30,640.78 2041.70,640.78 2034.90,629.00 2041.70,617.22 2055.30,617.22"/><circle cx="2048.5" cy="629" r="4.2"/></g><g stroke="#3f6be8" stroke-width="2.4"><path d="M36.9 98 V113.5 M36.9 128 V144 M14 121 H30 M44 121 H60"/></g><g stroke="#d4d4d4" stroke-width="1.7" fill="none"><path d="M21.9 205.8 L50 177.8"/><circle cx="18.9" cy="208.8" r="4.2"/><circle cx="53" cy="174.8" r="4.2"/></g><g stroke="#d4d4d4" stroke-width="1.7" fill="none"><path d="M14.2 244.8 H57.7 M14.2 256.9 H52.6 M14.2 268.8 H57.7 M19 280.7 H57.7"/><circle cx="56.8" cy="256.9" r="4.2"/><circle cx="14.8" cy="280.7" r="4.2"/></g><g stroke="#d4d4d4" stroke-width="1.7" fill="none"><path d="M24.6 318.5 L33.1 332.5 L48.8 320.4 L54.9 346.9 L33.1 332.5 L18.9 353 L24.6 318.5"/><circle cx="24.6" cy="318.5" r="4.2" fill="#121212"/><circle cx="48.8" cy="320.4" r="4.2" fill="#121212"/><circle cx="33.1" cy="332.5" r="4.2" fill="#121212"/><circle cx="18.9" cy="353" r="4.2" fill="#121212"/><circle cx="54.9" cy="346.9" r="4.2" fill="#121212"/></g><g stroke="#d4d4d4" stroke-width="1.7" fill="none"><path d="M20.8 392.7 H55.8 M20.8 413.1 H48.8 M20.8 424.9 H55.8"/><path d="M25.5 409.3 L52 396.5" stroke-dasharray="3.2 4"/><circle cx="16.6" cy="392.7" r="4.2"/><circle cx="16.6" cy="413.1" r="4.2"/><circle cx="53" cy="413.1" r="4.2"/><circle cx="16.6" cy="424.9" r="4.2"/></g><g stroke="#d4d4d4" stroke-width="1.9" fill="none" stroke-linejoin="round" stroke-linecap="round"><path d="M12.6 497.2 L23.6 481.2 Q27 475.6 32.6 475.6 Q42.4 476 42.6 486.2 Q42.4 497.2 31.6 497.2 Z"/><path d="M44.6 464.5 L41.9 467.4 Q40.2 469.6 42.2 471.7 L46.3 476 Q48.3 478 50.5 476 L62.7 464.8"/></g><g stroke="#d4d4d4" stroke-width="1.8" fill="none"><path d="M23 541.8 V535.1 H51 V541.8 M37 535.1 V569.2 M32.2 569.2 H42"/></g><g stroke="#d4d4d4" stroke-width="1.8" fill="none"><circle cx="35.9" cy="623.9" r="21"/><path d="M29.8 628.5 Q35.9 636.5 42.2 628.5"/></g><circle cx="30.8" cy="620.8" r="2" fill="#d4d4d4"/><circle cx="41.2" cy="620.8" r="2" fill="#d4d4d4"/><rect x="0" y="671.8" width="72" height="2" fill="#44444c"/><g stroke="#d4d4d4" stroke-width="1.9" fill="none" stroke-linejoin="round"><path d="M16.4 729.6 L47.9 699.6 Q49.2 698.4 50.5 699.6 L58.7 707 Q60 708.2 58.7 709.4 L37.7 729.6"/><path d="M44.3 703.05 L47.7 706.8 M37.9 709.1 L43.3 715 M31.4 715.3 L34.8 719 M25 721.35 L30.4 727.2"/></g><path d="M87.2 584.4 L82.6 591.2 L87.2 597.8" stroke="#d6d6d6" stroke-width="1.7" fill="none" stroke-linecap="round"/><rect x="367.7" y="674" width="2" height="43.6" fill="#3a3d45"/><rect x="1904.6" y="674.8" width="2" height="42.4" fill="#3a3d45"/><g stroke="#d8d8d8" stroke-width="2" fill="none" stroke-linejoin="round" stroke-linecap="round"><path d="M398 693.3 V684.4 Q398 681.2 401.2 681.2 H428.8 Q432 681.2 432 684.4 V707.5 Q432 710.7 428.8 710.7 H415.4"/><path d="M398 689.1 H432"/><path d="M408 676.1 V683.9 M421.8 676.1 V683.9"/><path d="M395.1 704.8 H410.2 M403.2 697.7 L410.4 704.8 L403.2 711.9"/></g>
</svg>
</body></html>
